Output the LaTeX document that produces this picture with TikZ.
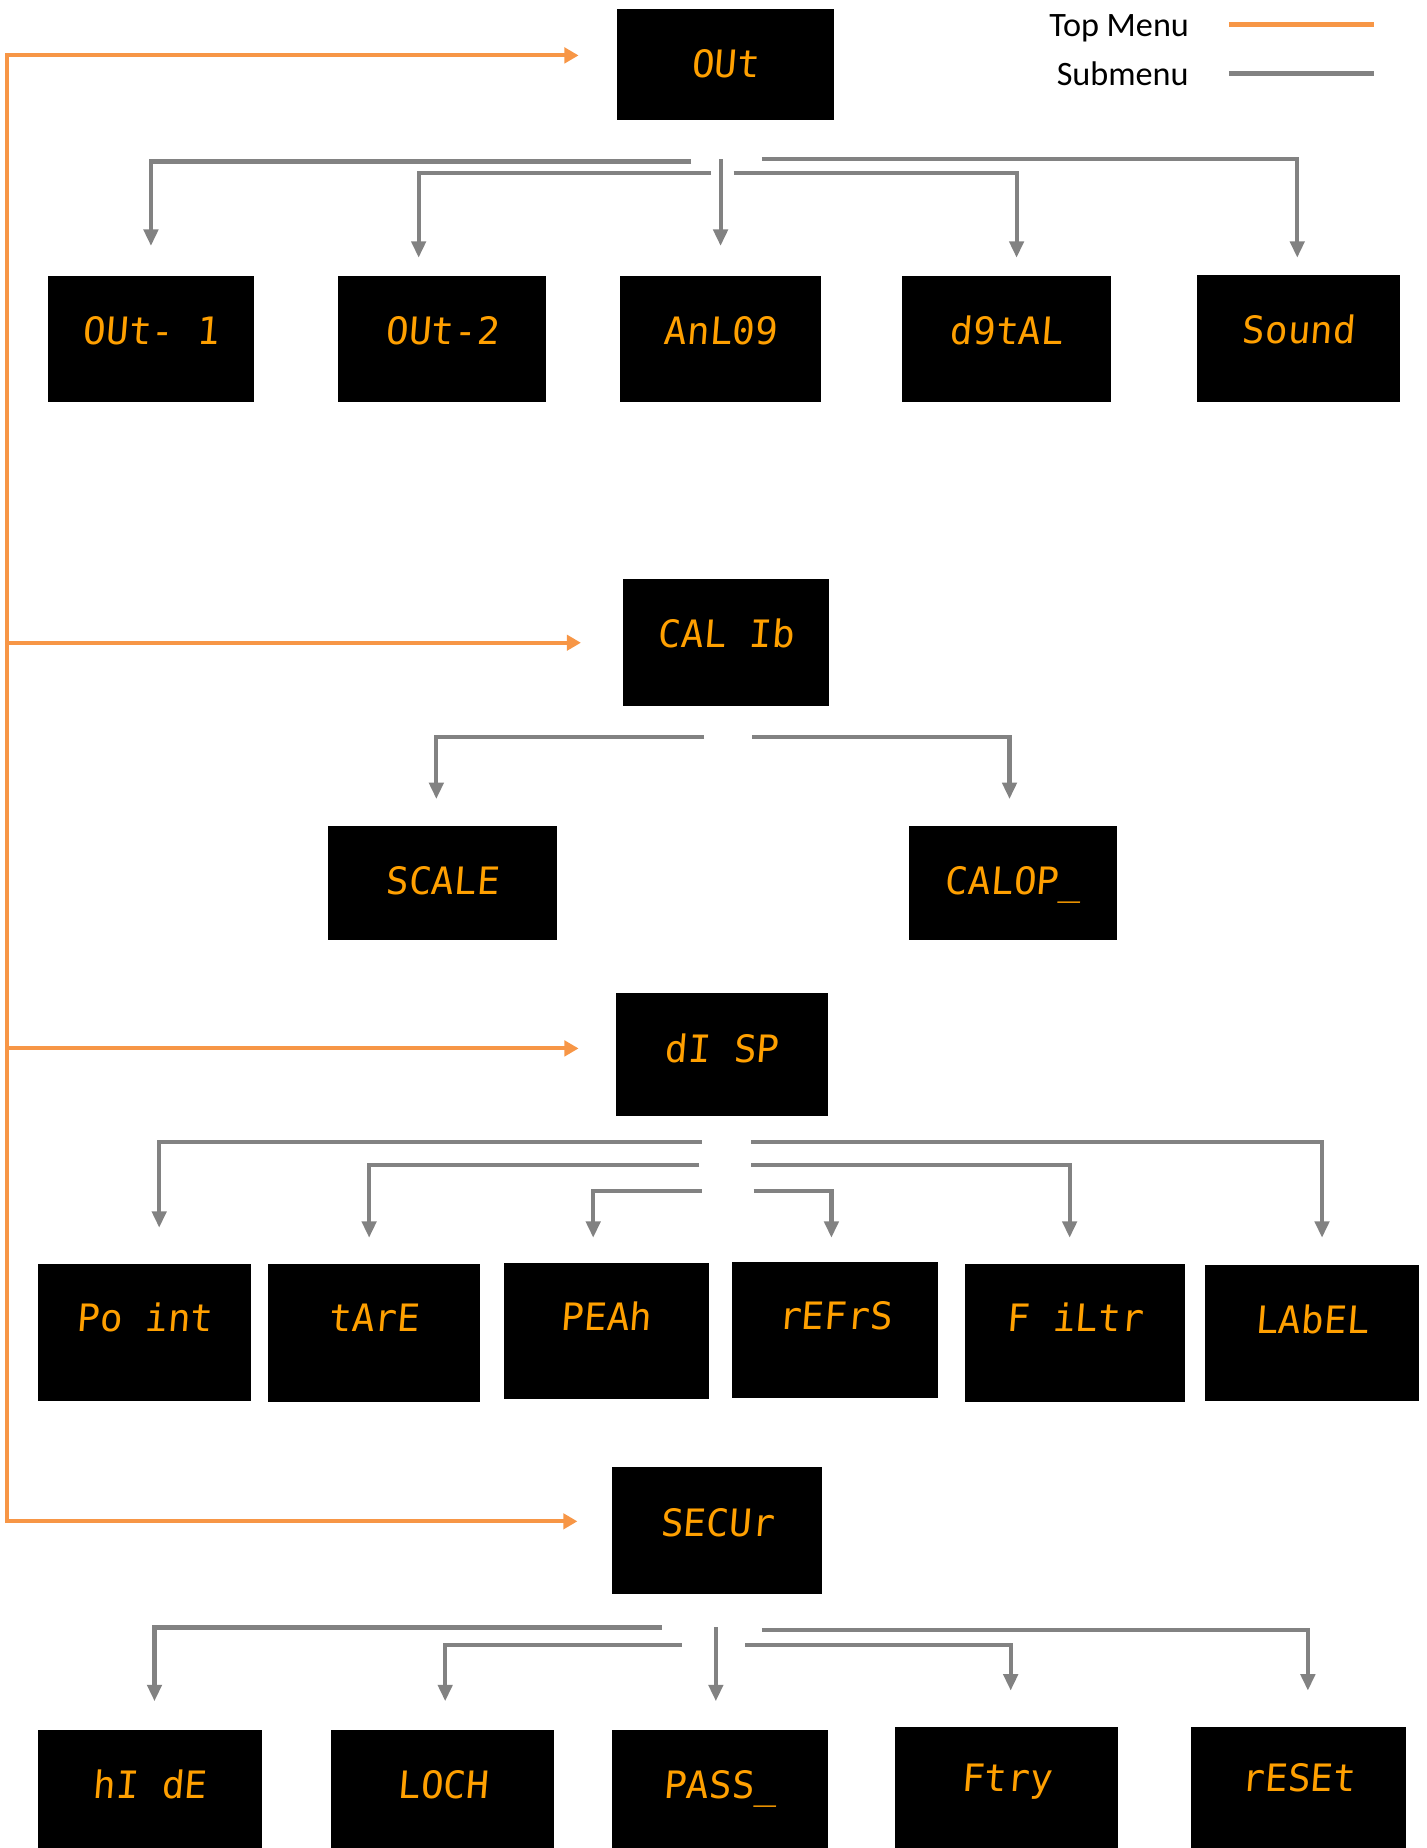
\documentclass[tikz,border=0pt]{standalone}
\usepackage{fontspec}
\setmainfont{Carlito}
\newfontfamily\segfont[FakeSlant=0.08]{DejaVu Sans Mono}
\usetikzlibrary{arrows.meta,calc,fit}
\definecolor{topc}{HTML}{F79646}
\definecolor{subc}{HTML}{828282}
\definecolor{segc}{HTML}{FFA000}
\begin{document}
\begin{tikzpicture}[x=0.5pt,y=-0.5pt,
  box/.style={fill=black,draw=none,inner sep=0pt},
  seg/.style={font=\segfont\fontsize{16pt}{16pt}\selectfont,text=segc,inner sep=0pt,text height=11.7pt,text depth=0pt},
  topline/.style={draw=topc,line width=1.75pt},
  topar/.style={topline,-{Triangle[length=6pt,width=6.5pt]}},
  subline/.style={draw=subc,line width=1.75pt,-{Triangle[length=7pt,width=6pt]}},
  legtext/.style={font=\fontsize{14.5pt}{17pt}\selectfont,anchor=base,inner sep=0pt}]
\clip (0,0) rectangle (1210,1567);

% legend
\node[legtext] (legtop) at (949,30.6) {Top Menu};
\node[legtext] (legsub) at (952,72.2) {Submenu};
\coordinate (lt1) at (1042,21);
\coordinate (lt2) at (1165,21);
\coordinate (ls1) at (1042,62.5);
\coordinate (ls2) at (1165,62.5);
\draw[topline,line width=2.25pt] (lt1) -- (lt2);
\draw[draw=subc,line width=2.25pt] (ls1) -- (ls2);

% boxes
\node[box,fit={(523,8) (707,102)}] (b0) {};
\node[box,fit={(41,234) (215,341)}] (b11) {};
\node[box,fit={(287,234) (463,341)}] (b12) {};
\node[box,fit={(526,234) (696,341)}] (b13) {};
\node[box,fit={(765,234) (942,341)}] (b14) {};
\node[box,fit={(1015,233) (1187,341)}] (b15) {};
\node[box,fit={(528,491) (703,599)}] (c0) {};
\node[box,fit={(278,700) (472,797)}] (c1) {};
\node[box,fit={(771,700) (947,797)}] (c2) {};
\node[box,fit={(522,842) (702,946)}] (d0) {};
\node[box,fit={(32,1072) (213,1188)}] (d1) {};
\node[box,fit={(227,1072) (407,1189)}] (d2) {};
\node[box,fit={(427,1071) (601,1186)}] (d3) {};
\node[box,fit={(621,1070) (795,1185)}] (d4) {};
\node[box,fit={(818,1072) (1005,1189)}] (d5) {};
\node[box,fit={(1022,1073) (1203,1188)}] (d6) {};
\node[box,fit={(519,1244) (697,1352)}] (e0) {};
\node[box,fit={(32,1467) (222,1600)}] (e1) {};
\node[box,fit={(281,1467) (470,1600)}] (e2) {};
\node[box,fit={(519,1467) (702,1600)}] (e3) {};
\node[box,fit={(759,1464) (948,1600)}] (e4) {};
\node[box,fit={(1010,1464) (1192,1600)}] (e5) {};

% display texts
\node[seg] (tb0) at ($(b0.north)+(0,46.5)$) {OUt};
\node[seg] (tb11) at ($(b11.north)+(0,46.5)$) {OUt- 1};
\node[seg] (tb12) at ($(b12.north)+(0,46.5)$) {OUt-2};
\node[seg] (tb13) at ($(b13.north)+(0,46.5)$) {AnL09};
\node[seg] (tb14) at ($(b14.north)+(0,46.5)$) {d9tAL};
\node[seg] (tb15) at ($(b15.north)+(0,47)$) {Sound};
\node[seg] (tc0) at ($(c0.north)+(0,46.5)$) {CAL Ib};
\node[seg] (tc1) at ($(c1.north)+(0,47)$) {SCALE};
\node[seg] (tc2) at ($(c2.north)+(0,47)$) {CALOP\_};
\node[seg] (td0) at ($(d0.north)+(0,48)$) {dI SP};
\node[seg] (td1) at ($(d1.north)+(0,46)$) {Po int};
\node[seg] (td2) at ($(d2.north)+(0,46)$) {tArE};
\node[seg] (td3) at ($(d3.north)+(0,46)$) {PEAh};
\node[seg] (td4) at ($(d4.north)+(0,46)$) {rEFrS};
\node[seg] (td5) at ($(d5.north)+(0,46)$) {F iLtr};
\node[seg] (td6) at ($(d6.north)+(0,46)$) {LAbEL};
\node[seg] (te0) at ($(e0.north)+(0,47.5)$) {SECUr};
\node[seg] (te1) at ($(e1.north)+(0,47)$) {hI dE};
\node[seg] (te2) at ($(e2.north)+(0,47)$) {LOCH};
\node[seg] (te3) at ($(e3.north)+(0,47)$) {PASS\_};
\node[seg] (te4) at ($(e4.north)+(0,44)$) {Ftry};
\node[seg] (te5) at ($(e5.north)+(0,44)$) {rESEt};

% top-menu connectors
\coordinate (o1) at (6,47);
\coordinate (o2) at (6,545);
\coordinate (o3) at (6,889);
\coordinate (o4) at (6,1290);
\draw[topline,line cap=rect] (o1) -- (o4);
\draw[topar,shorten >=16pt] (o1) -- (o1 -| b0.west);
\draw[topar,shorten >=17.5pt] (o2) -- (o2 -| c0.west);
\draw[topar,shorten >=15.5pt] (o3) -- (o3 -| d0.west);
\draw[topar,shorten >=14.5pt] (o4) -- (o4 -| e0.west);

% OUt submenu
\coordinate (s11) at (586,137);
\coordinate (s12) at (603,147);
\coordinate (s13) at (611,135);
\coordinate (s14) at (622,147);
\coordinate (s15) at (646,135);
\draw[subline,shorten >=12.5pt] (s11) -| (b11.north);
\draw[subline,shorten >=7.5pt] (s12) -| ($(b12.north)+(-20,0)$);
\draw[subline,shorten >=12.5pt] (s13) -- (s13 |- b13.north);
\draw[subline,shorten >=7.5pt] (s14) -| ($(b14.north)+(8.5,0)$);
\draw[subline,shorten >=7pt] (s15) -| ($(b15.north)+(-1,0)$);

% CAL Ib submenu
\coordinate (sc1) at (597,625);
\coordinate (sc2) at (638,625);
\draw[subline,shorten >=11pt] (sc1) -| ($(c1.north)+(-5,0)$);
\draw[subline,shorten >=11pt] (sc2) -| ($(c2.north)+(-3,0)$);

% dI SP submenu
\coordinate (sd1) at (595,968);
\coordinate (sd2) at (593,988);
\coordinate (sd3) at (595,1010);
\coordinate (sd4) at (639,1010);
\coordinate (sd5) at (637,988);
\coordinate (sd6) at (637,968);
\draw[subline,shorten >=15.25pt] (sd1) -| ($(d1.north)+(12.5,0)$);
\draw[subline,shorten >=11pt] (sd2) -| ($(d2.north)+(-4,0)$);
\draw[subline,shorten >=10.5pt] (sd3) -| ($(d3.north)+(-11,0)$);
\draw[subline,shorten >=10pt] (sd4) -| ($(d4.north)+(-3,0)$);
\draw[subline,shorten >=11pt] (sd5) -| ($(d5.north)+(-4.5,0)$);
\draw[subline,shorten >=11.5pt] (sd6) -| ($(d6.north)+(8.5,0)$);

% SECUr submenu
\coordinate (se1) at (561,1380);
\coordinate (se2) at (578,1395);
\coordinate (se3) at (607,1380);
\coordinate (se4) at (632,1395);
\coordinate (se5) at (646,1382);
\draw[subline,shorten >=12pt] (se1) -| ($(e1.north)+(4,0)$);
\draw[subline,shorten >=12pt] (se2) -| ($(e2.north)+(2,0)$);
\draw[subline,shorten >=12pt] (se3) -- (se3 |- e3.north);
\draw[subline,shorten >=15pt] (se4) -| ($(e4.north)+(3.5,0)$);
\draw[subline,shorten >=15pt] (se5) -| ($(e5.north)+(8,0)$);
\end{tikzpicture}
\end{document}
